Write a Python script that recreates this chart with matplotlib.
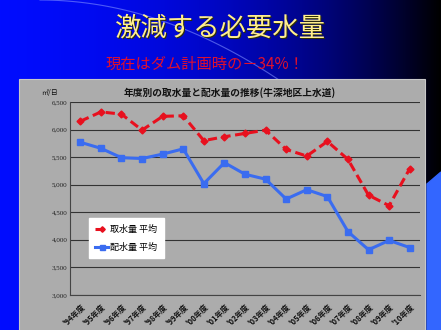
import numpy as np
import matplotlib
matplotlib.use("Agg")
import matplotlib.pyplot as plt
from matplotlib.patches import Rectangle, Polygon

plt.rcParams['font.family'] = ['Noto Sans CJK JP', 'DejaVu Sans']

years = ["'94年度", "'95年度", "'96年度", "'97年度", "'98年度", "'99年度", "'00年度",
         "'01年度", "'02年度", "'03年度", "'04年度", "'05年度", "'06年度", "'07年度",
         "'08年度", "'09年度", "'10年度"]
intake = [6150, 6320, 6280, 5990, 6240, 6250, 5800, 5870, 5930, 5990,
          5640, 5520, 5785, 5460, 4810, 4620, 5290]
distribution = [5770, 5660, 5490, 5475, 5555, 5650, 5020, 5400, 5190, 5100,
                4740, 4910, 4785, 4150, 3820, 3990, 3860]
yticks = [3000, 3500, 4000, 4500, 5000, 5500, 6000, 6500]

W, H = 441, 330
fig = plt.figure(figsize=(W / 100, H / 100), dpi=100)

# slide background: blue to black gradient
bg = fig.add_axes([0, 0, 1, 1])
bg.set_xlim(0, W); bg.set_ylim(H, 0); bg.axis('off')
t = np.linspace(0, 1, 256)
r = np.zeros_like(t)
g = 0.05 * (1 - t)
b = np.clip(1.0 - 0.2 * t - 0.8 * t ** 2.5, 0, 1)
grad = np.dstack([r, g, b]).repeat(2, axis=0)
bg.imshow(grad, extent=[0, W, H, 0], aspect='auto', zorder=0)
# faint arc
xs = np.linspace(40, 280, 100)
bg.plot(xs, 0.0014 * (xs - 40) ** 2, color='#8090ff', lw=0.8, alpha=0.6, zorder=1)
# blue patch bottom right
bg.add_patch(Polygon([[427, 184], [441, 172], [441, 330], [427, 330]],
                     closed=True, color='#3366ff', zorder=1))
# gray chart area
bg.add_patch(Rectangle((19, 79), 406, 260, facecolor='#acacac',
                       edgecolor='#c8c8c8', lw=0.8, zorder=2))

bg.text(221, 29, '激減する必要水量', color='#303000', fontsize=19,
        ha='center', va='center', zorder=3)
bg.text(220, 28, '激減する必要水量', color='#ffee90', fontsize=19,
        ha='center', va='center', zorder=4)
bg.text(205, 64, '現在はダム計画時の－34%！', color='#e0102e', fontsize=11,
        ha='center', va='center', zorder=4)
bg.text(230, 93, '年度別の取水量と配水量の推移(牛深地区上水道)', color='#111111',
        fontsize=7, fontweight='bold', ha='center', va='center', zorder=4)
bg.text(49, 93, '㎥/日', color='#111111', fontsize=5, ha='center',
        va='center', zorder=4)

ax = fig.add_axes([70 / W, 1 - 295 / H, 350 / W, 193 / H])
ax.set_facecolor('#acacac')
x = np.arange(len(years))
ax.plot(x, intake, color='#e8101e', lw=2.2, ls=(0, (3, 1.5)), marker='D',
        markersize=3.5, label='取水量 平均', zorder=3)
ax.plot(x, distribution, color='#3a6cf0', lw=2.2, marker='s', markersize=4.5,
        label='配水量 平均', zorder=3)
ax.set_ylim(3000, 6500)
ax.set_xlim(-0.5, len(years) - 0.5)
ax.set_yticks(yticks)
ax.set_yticklabels([f'{v:,}' for v in yticks], fontsize=5,
                   family=['Liberation Serif'], color='#222222')
ax.set_xticks(x)
ax.set_xticklabels(years, rotation=45, fontsize=5.5, fontweight='bold',
                   ha='right', rotation_mode='anchor', color='#111111')
ax.tick_params(length=0, pad=2)
ax.tick_params(axis='x', pad=5)
ax.grid(axis='y', color='#333333', lw=0.8)
for s in ['top', 'right']:
    ax.spines[s].set_visible(False)
for s in ['left', 'bottom']:
    ax.spines[s].set_color('#444444')
    ax.spines[s].set_linewidth(0.8)

leg = ax.legend(loc='upper left', bbox_to_anchor=(0.04, 0.42), fontsize=6.5,
                frameon=True, fancybox=False, edgecolor='white',
                handlelength=1.5, handletextpad=0.2, borderpad=0.7,
                labelspacing=1.0, markerscale=0.8)
leg.get_frame().set_facecolor('white')
leg.get_frame().set_alpha(1)

fig.savefig('out.png', dpi=100)
